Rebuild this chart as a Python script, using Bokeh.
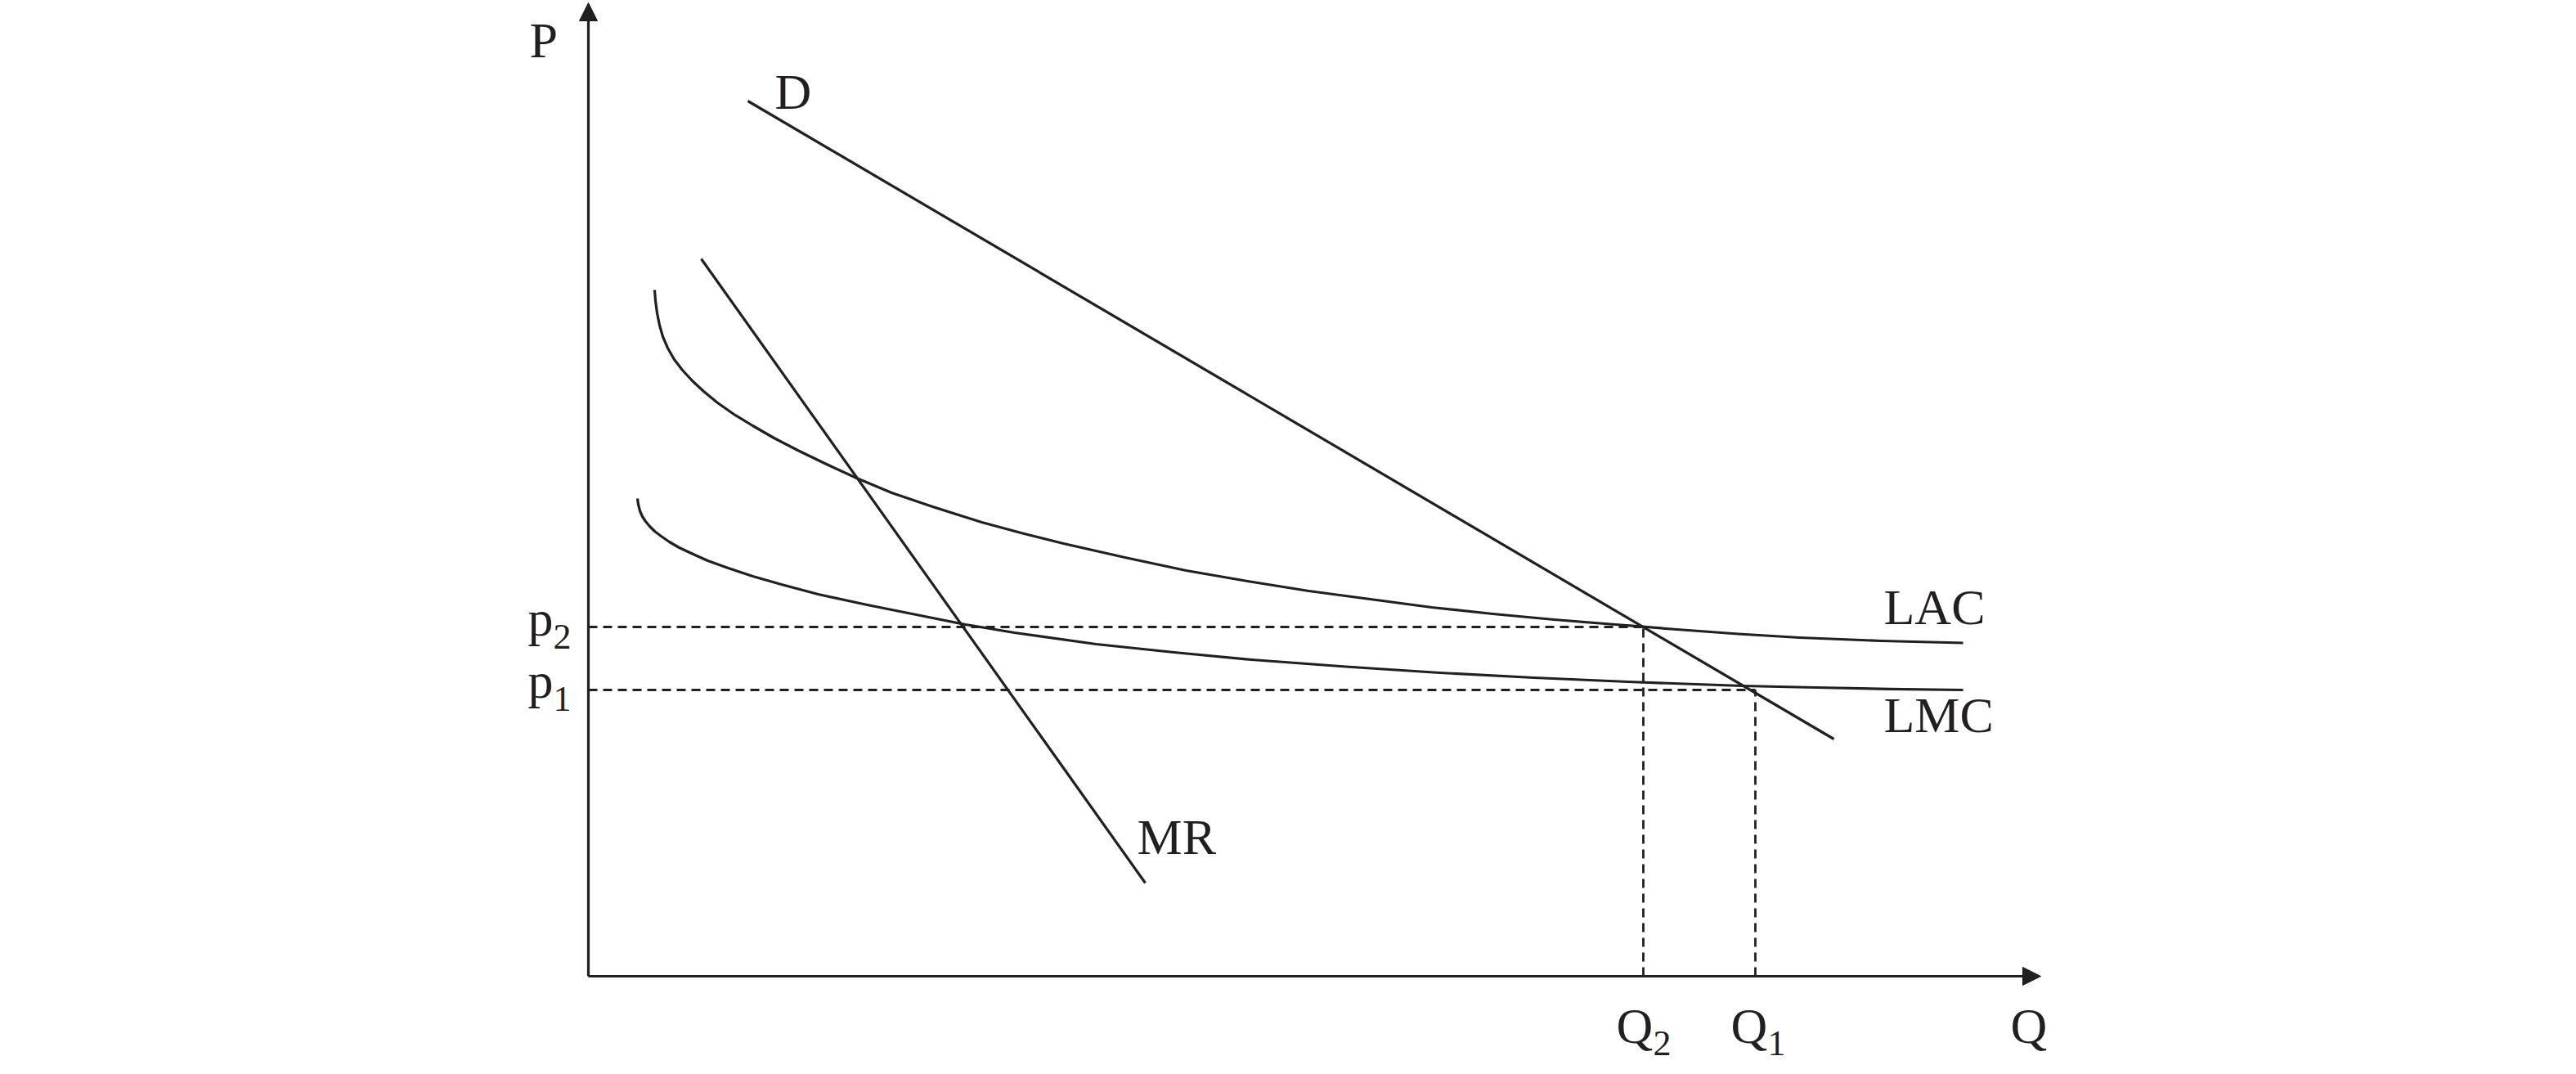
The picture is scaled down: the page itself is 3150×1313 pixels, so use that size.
from bokeh.plotting import figure
from bokeh.models import Range1d, Arrow, NormalHead, ColumnDataSource
from bokeh.core.properties import value
from bokeh.embed import file_html
from bokeh.resources import INLINE

INK = "#231f20"
FONT = value("Liberation Serif")

# ---- data (arbitrary units: quantity Q, price P) ----
Q_AXIS_MAX = 177.6
P_AXIS_MAX = 119.0

Q2, Q1 = 129.0, 142.7
p2, p1 = 42.7, 35.0

D_q = [19.5, 152.3]
D_p = [107.0, 29.0]

MR_q = [13.8, 68.1]
MR_p = [87.7, 11.4]

LAC_q = [8.1, 8.2, 8.4, 8.7, 9.1, 9.7, 10.5, 11.5, 12.7, 14.1, 15.8, 17.8, 20.1,
         22.7, 25.6, 28.9, 32.8, 37.1, 42.1, 48.1, 53.1, 58.1, 65.6, 73.1, 80.6,
         88.1, 95.6, 103.1, 110.6, 118.1, 125.6, 133.1, 140.6, 148.1, 158.1, 168.1]
LAC_p = [83.9, 82.6, 81.1, 79.6, 78.2, 76.8, 75.4, 74.1, 72.8, 71.5, 70.1, 68.7, 67.3,
         65.8, 64.3, 62.7, 60.9, 59.1, 57.4, 55.5, 54.15, 52.9, 51.2, 49.6, 48.3,
         47.1, 46.1, 45.1, 44.3, 43.6, 43.0, 42.4, 41.85, 41.4, 41.0, 40.75]

LMC_q = [6.0, 6.1, 6.3, 6.6, 7.0, 7.5, 8.1, 8.9, 9.9, 11.1, 12.6, 14.6, 17.1, 20.1,
         23.6, 28.1, 34.1, 40.1, 46.1, 52.1, 62.1, 71.6, 81.1, 92.6, 104.1, 115.6,
         127.1, 141.1, 150.1, 159.1, 168.1]
LMC_p = [58.4, 57.7, 56.9, 56.2, 55.6, 55.0, 54.4, 53.8, 53.1, 52.4, 51.7, 50.8, 49.9, 48.9,
         47.9, 46.7, 45.4, 44.2, 43.0, 42.0, 40.6, 39.6, 38.7, 37.85, 37.1, 36.5,
         36.0, 35.5, 35.3, 35.12, 35.0]

MAIN_TEXT = ["P", "D", "MR", "LAC", "LMC", "p", "p", "Q", "Q", "Q"]
SUB_TEXT = ["2", "1", "2", "1"]

# ---- figure ----
W, H = 3140, 1305
p = figure(width=W, height=H, output_backend="svg", toolbar_location=None,
           x_range=Range1d(-71.9, -71.9 + W / 10.0),
           y_range=Range1d(119.3 - H / 10.0, 119.3),
           min_border=0)
p.axis.visible = False
p.grid.visible = False
p.outline_line_color = None
p.background_fill_color = "white"
p.border_fill_color = "white"

# axes with arrow heads
p.add_layout(Arrow(x_start=0, y_start=0, x_end=Q_AXIS_MAX, y_end=0,
                   line_color=INK, line_width=3.2,
                   end=NormalHead(size=22, fill_color=INK, line_color=INK, line_width=1)))
p.add_layout(Arrow(x_start=0, y_start=0, x_end=0, y_end=P_AXIS_MAX,
                   line_color=INK, line_width=3.2,
                   end=NormalHead(size=22, fill_color=INK, line_color=INK, line_width=1)))

# dashed guide lines
p.segment(x0=[0, 0, Q2, Q1], y0=[p2, p1, 0, 0],
          x1=[Q2, Q1, Q2, Q1], y1=[p2, p1, p2, p1],
          line_color=INK, line_width=2.8, line_dash="11 7")

# curves
p.line(D_q, D_p, line_color=INK, line_width=3.2)
p.line(MR_q, MR_p, line_color=INK, line_width=3.2)
p.line(LAC_q, LAC_p, line_color=INK, line_width=3.2, line_join="round")
p.line(LMC_q, LMC_p, line_color=INK, line_width=3.2, line_join="round")

# labels (y shifted to compensate the renderer's baseline offset)
main = ColumnDataSource(dict(
    text=MAIN_TEXT,
    x=[-7.2, 22.8, 67.1, 158.4, 158.4, -7.4, -7.4, 125.7, 139.7, 173.9],
    y=[114.5, 108.2, 17.1, 45.2, 32.0, 43.8, 36.2, -6.0, -6.0, -6.0],
))
p.text(x="x", y="y", text="text", source=main, text_font=FONT,
       text_font_size="62px", text_color=INK,
       text_align="left", text_baseline="alphabetic")

sub = ColumnDataSource(dict(
    text=SUB_TEXT,
    x=[-4.3, -4.3, 130.2, 144.2],
    y=[41.5, 33.9, -8.2, -8.2],
))
p.text(x="x", y="y", text="text", source=sub, text_font=FONT,
       text_font_size="44px", text_color=INK,
       text_align="left", text_baseline="alphabetic")

open("out.html", "w").write(file_html(p, INLINE))
